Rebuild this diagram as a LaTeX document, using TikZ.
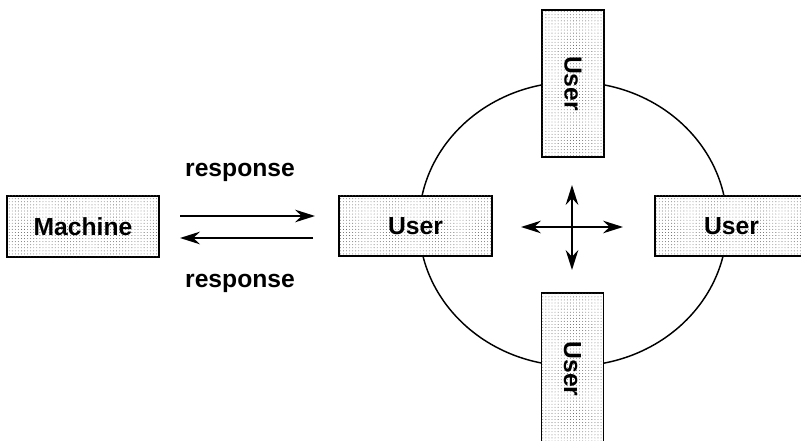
\documentclass[tikz,border=0pt]{standalone}
\usepackage{fontspec}
\setmainfont{Liberation Sans}
\usetikzlibrary{arrows.meta,patterns.meta}
\tikzset{
  ubox/.style={draw=black, line width=1.3pt, fill=white,
    postaction={pattern={Dots[distance=2.3pt, radius=0.32pt]}, pattern color=black!70},
    inner sep=0pt, font=\fontsize{18.5}{22}\selectfont\bfseries},
  lbl/.style={font=\fontsize{18.5}{22}\selectfont\bfseries, inner sep=0pt, anchor=base},
  tip/.style={},
  arr/.style={line width=1.2pt, -{Stealth[length=15pt,width=9.5pt,inset=5pt]}},
  darr/.style={line width=1.2pt, {Stealth[length=15pt,width=9.5pt,inset=5pt]}-{Stealth[length=15pt,width=9.5pt,inset=5pt]}},
  ring/.style={draw=black, line width=1.1pt}
}
\begin{document}
\begin{tikzpicture}[x=0.75pt, y=-0.75pt]
\useasboundingbox (0,0) rectangle (801,441);
\clip (0,0) rectangle (801,441);
\fill[white] (0,0) rectangle (801,441);
% ring
\draw[ring] (573,224) ellipse [x radius=154, y radius=142];
% boxes
\node[ubox, minimum width=114pt, minimum height=45.75pt] (machine) at (83,226.5) {Machine};
\node[ubox, minimum width=114.75pt, minimum height=45pt] (userL) at (415.5,226) {User};
\node[ubox, minimum width=114.75pt, minimum height=45pt] (userR) at (731.5,226) {User};
\node[ubox, rotate=-90, minimum width=110.25pt, minimum height=46.5pt] (userT) at (573,83.5) {User};
\node[ubox, rotate=-90, minimum width=114pt, minimum height=46.5pt] (userB) at (572.5,369) {User};
% labels
\node[lbl] (resp1) at (240,177) {response};
\node[lbl] (resp2) at (240,288) {response};
% arrows between machine and user
\coordinate (a1s) at (180,216);
\coordinate (a1e) at (315,216);
\coordinate (a2s) at (313,238);
\coordinate (a2e) at (180,238);
\draw[arr] (a1s) -- (a1e);
\draw[arr] (a2s) -- (a2e);
% four-way arrow
\coordinate (hl) at (521,227);
\coordinate (hr) at (623,227);
\coordinate (vt) at (572,185);
\coordinate (vb) at (572,270);
\draw[darr] (hl) -- (hr);
\draw[darr] (vt) -- (vb);
\end{tikzpicture}
\end{document}
